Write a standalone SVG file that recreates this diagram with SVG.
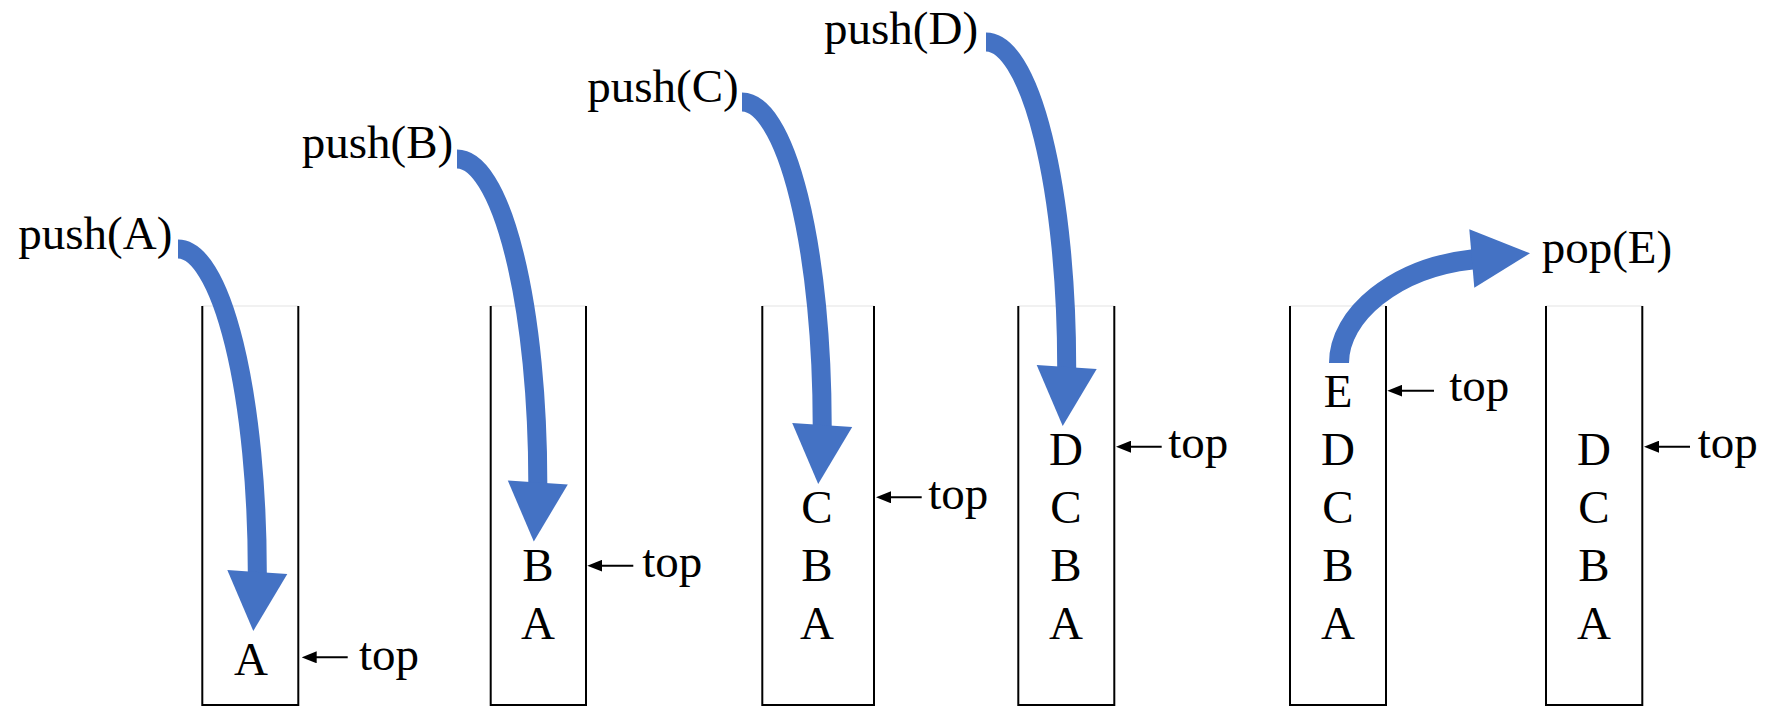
<svg xmlns="http://www.w3.org/2000/svg" width="1765" height="706" viewBox="0 0 1765 706">
  <style>
    text { font-family: "Liberation Serif", "Times New Roman", serif; font-size: 47px; fill: #000; }
    .item { text-anchor: middle; }
    .wall { fill: none; stroke: #000; stroke-width: 2; }
    .rim { stroke: #ececec; stroke-width: 1.5; }
    .flow { fill: none; stroke: #4472C4; stroke-width: 19; stroke-linecap: butt; }
    .head { fill: #4472C4; }
    .ptr { stroke: #000; stroke-width: 2; marker-end: url(#ptrTip); }
  </style>
  <defs>
    <marker id="ptrTip" markerWidth="15" markerHeight="12" refX="11" refY="6" orient="auto" markerUnits="userSpaceOnUse">
      <path d="M0,0 L15,6 L0,12 z" fill="#000"/>
    </marker>
  </defs>

  <!-- stack after push(A) -->
  <g id="stack1">
    <line class="rim" x1="202.3" y1="306" x2="298.3" y2="306"/>
    <path class="wall" d="M202.3,306 V705 H298.3 V306"/>
    <text class="item" x="251" y="675">A</text>
    <line class="ptr" x1="347.7" y1="657.3" x2="305.7" y2="657.3"/>
    <text x="359" y="670">top</text>
  </g>

  <!-- stack after push(B) -->
  <g id="stack2">
    <line class="rim" x1="490.7" y1="306" x2="586" y2="306"/>
    <path class="wall" d="M490.7,306 V705 H586 V306"/>
    <text class="item" x="538" y="581">B</text>
    <text class="item" x="538" y="639">A</text>
    <line class="ptr" x1="633.3" y1="565.7" x2="591.3" y2="565.7"/>
    <text x="642.3" y="577">top</text>
  </g>

  <!-- stack after push(C) -->
  <g id="stack3">
    <line class="rim" x1="762.3" y1="306" x2="874" y2="306"/>
    <path class="wall" d="M762.3,306 V705 H874 V306"/>
    <text class="item" x="817" y="523">C</text>
    <text class="item" x="817" y="581">B</text>
    <text class="item" x="817" y="639">A</text>
    <line class="ptr" x1="921.7" y1="497.3" x2="880" y2="497.3"/>
    <text x="928.3" y="509">top</text>
  </g>

  <!-- stack after push(D) -->
  <g id="stack4">
    <line class="rim" x1="1018.3" y1="306" x2="1114.3" y2="306"/>
    <path class="wall" d="M1018.3,306 V705 H1114.3 V306"/>
    <text class="item" x="1066" y="465">D</text>
    <text class="item" x="1066" y="523">C</text>
    <text class="item" x="1066" y="581">B</text>
    <text class="item" x="1066" y="639">A</text>
    <line class="ptr" x1="1161.7" y1="446.7" x2="1120" y2="446.7"/>
    <text x="1168.3" y="458">top</text>
  </g>

  <!-- stack holding E before the pop -->
  <g id="stack5">
    <line class="rim" x1="1290" y1="306" x2="1386" y2="306"/>
    <path class="wall" d="M1290,306 V705 H1386 V306"/>
    <text class="item" x="1338" y="407">E</text>
    <text class="item" x="1338" y="465">D</text>
    <text class="item" x="1338" y="523">C</text>
    <text class="item" x="1338" y="581">B</text>
    <text class="item" x="1338" y="639">A</text>
    <line class="ptr" x1="1434" y1="390.7" x2="1391.3" y2="390.7"/>
    <text x="1449.3" y="401">top</text>
  </g>

  <!-- stack after pop(E) -->
  <g id="stack6">
    <line class="rim" x1="1546" y1="306" x2="1642.3" y2="306"/>
    <path class="wall" d="M1546,306 V705 H1642.3 V306"/>
    <text class="item" x="1594" y="465">D</text>
    <text class="item" x="1594" y="523">C</text>
    <text class="item" x="1594" y="581">B</text>
    <text class="item" x="1594" y="639">A</text>
    <line class="ptr" x1="1690" y1="446.7" x2="1648" y2="446.7"/>
    <text x="1697.7" y="458">top</text>
  </g>

  <!-- operation labels -->
  <g id="labels">
    <text x="18.3" y="248.5">push(A)</text>
    <text x="301.7" y="158.3">push(B)</text>
    <text x="587.3" y="101.7">push(C)</text>
    <text x="824" y="43.5">push(D)</text>
    <text x="1541.7" y="263">pop(E)</text>
  </g>

  <!-- curved operation arrows -->
  <g id="connectors">
    <path class="flow" d="M178,249 A79.3,323 0 0 1 257.3,572 L257.3,575"/>
    <polygon class="head" points="227.3,570 287.3,574 253.3,631"/>

    <path class="flow" d="M457,159 A80.8,323.5 0 0 1 537.8,482.5 L537.8,485.5"/>
    <polygon class="head" points="507.8,480.5 567.8,484.5 533.8,541.5"/>

    <path class="flow" d="M742,102 A80.2,323 0 0 1 822.2,425 L822.2,428"/>
    <polygon class="head" points="792.2,423 852.2,427 818.2,484"/>

    <path class="flow" d="M986,42 A80.7,325 0 0 1 1066.7,367 L1066.7,370"/>
    <polygon class="head" points="1036.7,365 1096.7,369 1062.7,426"/>

    <path class="flow" style="stroke-width:20" d="M1339,363 C1339,315 1395,268 1472,259.5 L1476,259"/>
    <polygon class="head" points="1469.3,229.3 1530,253.3 1474.3,287.7"/>
  </g>
</svg>
